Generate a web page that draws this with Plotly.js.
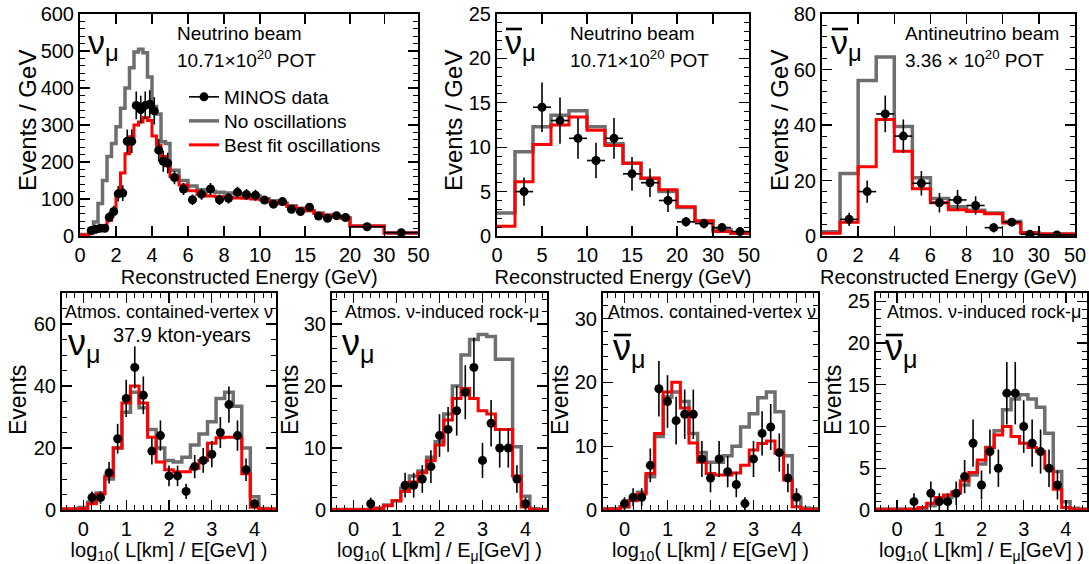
<!DOCTYPE html>
<html><head><meta charset="utf-8">
<script src="https://cdn.plot.ly/plotly-3.0.1.min.js"></script>
<style>html,body{margin:0;padding:0;background:#fff}#chart{width:1089px;height:564px}</style>
</head><body><div id="chart"></div>
<script>
// ===== Panel 1: nu_mu, neutrino beam (Events / GeV) =====
const p1Edges = [0,0.5,0.75,1,1.25,1.5,1.75,2,2.25,2.5,2.75,3,3.25,3.5,3.75,4,4.25,4.5,4.75,5,5.5,6,6.5,7,7.5,8,8.5,9,9.5,10,11,12,13,14,15,16,17,18,19,20,30,50];
const p1Data  = [null,15,18,21,21,51,66,114,116,256,256,353,342,353,356,338,232,202,197,158,127,98,113,127,98,102,118,112,110,97,86,93,72,66,78,54,48,55,50,25,9];
const p1Err   = [null,8,8.5,9,9,14,16,21,21.5,32,32,37.5,37,37.5,37.7,36.8,30.5,28.4,28,17.8,16,14,15,16,14,14.3,15.4,15,14.8,9.8,9.3,9.6,8.5,8.1,8.8,7.3,6.9,7.4,7.1,1.6,0.7];
const p1NoOsc = [4,15,38,88,150,215,250,295,345,400,455,497,505,495,430,350,330,255,250,178,150,135,125,121,118,116,114,111,108,101,95,89,82,75,69,62,57,53,49,27,8];
const p1Fit   = [3,8,12,16,25,42,70,110,170,222,268,300,308,320,312,270,245,215,190,160,138,122,112,108,106,104,103,102,100,97,92,87,80,74,68,61,56,52,48,27,8];
const p1Ticks = [0,2,4,6,8,10,15,20,30,50];
const p1ScaleE = [0,10,20,30,50], p1ScaleU = [0,10,15,16.9,18.8];

// ===== Panel 2: anti-nu_mu, neutrino beam =====
const p2Edges = [0,2,4,6,8,10,12,14,16,18,20,25,30,40,50];
const p2Data  = [null,5,14.5,13,11,8.5,11,7,6,4,1.6,1.4,0.95,0.5];
const p2Err   = [null,1.6,2.8,2.6,2.3,2.0,2.3,1.9,1.6,1.3,0.55,0.55,0.3,0.22];
const p2NoOsc = [2.6,9.5,12.3,13.6,14.1,12.3,10.4,8.2,6.5,5.0,3.2,1.7,0.7,0.3];
const p2Fit   = [1.1,6.1,10.3,12.5,13.4,11.9,10.2,8.2,6.5,5.2,3.3,1.7,0.5,0.3];
const p2Ticks = [0,5,10,15,20,30,50];
const p2ScaleE = [0,20,25,30,40,50], p2ScaleU = [0,10,11,12,13,14];

// ===== Panel 3: anti-nu_mu, antineutrino beam =====
const p3Edges = [0,1,2,3,4,5,6,7,8,9,10,20,30,50];
const p3Data  = [null,6,16,44,36,19,12,13,11,3,5,0.6,0.4];
const p3Err   = [null,2.4,4,6.6,6,4.4,3.5,3.6,3.3,1.7,0.7,0.25,0.15];
const p3NoOsc = [1.5,22.5,56,64.5,39.5,21,13.5,10.5,9.3,8.3,5.2,1.2,0.7];
const p3Fit   = [1,5,25,42,30.5,17,12,9.5,8.8,8,4.7,1.2,0.7];
const p3Ticks = [0,2,4,6,8,10,30,50];
const p3ScaleE = [0,10,20,30,50], p3ScaleU = [0,10,11,12,14];

// ===== Atmospheric panels: log10(L/E) bins =====
const atmEdges = [-0.5,-0.3,-0.1,0.1,0.3,0.5,0.7,0.9,1.1,1.3,1.5,1.7,1.9,2.1,2.3,2.5,2.7,2.9,3.1,3.3,3.5,3.7,3.9,4.1,4.3,4.5];
// contained-vertex nu_mu
const p4Data  = [null,null,null,4,4,12,23,36,46,37,19,24,11,11,6,14,16,18,25,34,24,13,2,null,null];
const p4Fit   = [0.3,0.3,0.5,2,5.2,11,20,34.5,40,34.5,23.5,15.5,13,12.3,12.3,13.5,16,21.5,23.3,23.5,23.5,11.7,0.9,0.3,0.3];
const p4NoOsc = [0.3,0.3,0.8,2.5,5.5,10,20,31.5,38,33,26,20,16,15.5,17,21,24.5,28.5,36,38,33.5,20,4.3,0.5,0.3];
// rock-muon nu_mu
const p5Data  = [null,null,null,null,1,null,null,null,4,4,5,7,12,13,16,19,23,8,14,10,10,5,1,null,null];
const p5Fit   = [0.1,0.1,0.1,0.1,0.1,0.3,0.7,1.5,3,4.5,6,8,10.5,14.5,18,19.6,18,16,15.5,13,13,5.5,0.5,0.1,0.1];
const p5NoOsc = [0.1,0.1,0.1,0.1,0.1,0.3,0.8,1.5,3.5,5.5,6.3,8.5,11,15.5,20,25,27.5,28.3,28,24.3,24.3,10.2,2.2,0.2,0.1];
// contained-vertex anti-nu_mu
const p6Data  = [null,null,1,2,2,7,19,17,14,15,15,8,5,8,6,4,1,8,12,13,9,5,2,null,null];
const p6Fit   = [0.1,0.1,0.5,1.5,2.5,5.7,12,18.5,20,16,10.5,7.5,5.7,5.5,5.5,5.8,7,9.4,10.4,10.8,8.9,4.7,0.5,0.1,0.1];
const p6NoOsc = [0.2,0.2,0.5,1.5,2.8,5.2,11.5,17.7,18.5,17,12,9,7.5,7.5,8.5,10,13,15.1,17.6,18.5,15.4,8.5,2,0.3,0.2];
// rock-muon anti-nu_mu
const p7Data  = [null,null,null,null,1,null,2,1,1,2,4,8,3,7,5,14,14,10,8,7,5,3,null,null,null];
const p7Fit   = [0.1,0.1,0.1,0.1,0.1,0.3,0.8,1.5,1.8,2.2,3.5,4.5,6,7.5,9,10,8.8,8,7.5,7,5,2.5,0.3,0.1,0.1];
const p7NoOsc = [0.1,0.1,0.1,0.1,0.1,0.2,0.5,1,1.5,2,3,4.2,5.5,7.5,9.5,12,13.3,13.8,13.3,12.3,9.2,4.6,1,0.2,0.1];

// ---------- helpers ----------
const W = 1089, H = 564;
const FONT = 'Liberation Sans, Arial, Helvetica, sans-serif';
const GRAY = '#6e6e6e', RED = '#ff0000';
function pxX(x){return x/W;} function pxY(y){return 1-y/H;}
function piecewise(kE,kU){
  return function(e){
    for(let i=0;i<kE.length-1;i++){
      if(e<=kE[i+1]||i===kE.length-2){
        return kU[i]+(e-kE[i])*(kU[i+1]-kU[i])/(kE[i+1]-kE[i]);
      }
    }
  };
}
const ident = e=>e;
const traces = [];
function addPanel(n, edges, noOsc, fit, data, err, map, sqrtErr, xErr){
  const xa = n===1?'x':'x'+n, ya = n===1?'y':'y'+n;
  const ex = edges.map(map);
  traces.push({type:'scatter',mode:'lines',x:ex,y:noOsc.concat([noOsc[noOsc.length-1]]),
    line:{shape:'hv',color:GRAY,width:3.5},xaxis:xa,yaxis:ya,showlegend:n===1,legend:'legend2',name:'No oscillations',hoverinfo:'skip'});
  traces.push({type:'scatter',mode:'lines',x:ex,y:fit.concat([fit[fit.length-1]]),
    line:{shape:'hv',color:RED,width:3},xaxis:xa,yaxis:ya,showlegend:n===1,legend:'legend3',name:'Best fit oscillations',hoverinfo:'skip'});
  const cx=[], hw=[];
  for(let i=0;i<edges.length-1;i++){cx.push((ex[i]+ex[i+1])/2); hw.push((ex[i+1]-ex[i])/2);}
  const tr = {type:'scatter',mode:'markers',x:cx,y:data,xaxis:xa,yaxis:ya,showlegend:false,
    marker:{color:'#000',size:9,symbol:'circle'},
    error_y: sqrtErr?{type:'sqrt',color:'#000',thickness:1.6,width:0}:{type:'data',array:err,color:'#000',thickness:1.6,width:0}};
  if(xErr) tr.error_x = {type:'data',array:hw,color:'#000',thickness:1.6,width:0};
  traces.push(tr);
}
const m1 = piecewise(p1ScaleE,p1ScaleU), m2 = piecewise(p2ScaleE,p2ScaleU), m3 = piecewise(p3ScaleE,p3ScaleU);
addPanel(1,p1Edges,p1NoOsc,p1Fit,p1Data,p1Err,m1,false,true);
addPanel(2,p2Edges,p2NoOsc,p2Fit,p2Data,p2Err,m2,false,true);
addPanel(3,p3Edges,p3NoOsc,p3Fit,p3Data,p3Err,m3,false,true);
addPanel(4,atmEdges,p4NoOsc,p4Fit,p4Data,null,ident,true,false);
addPanel(5,atmEdges,p5NoOsc,p5Fit,p5Data,null,ident,true,false);
addPanel(6,atmEdges,p6NoOsc,p6Fit,p6Data,null,ident,true,false);
addPanel(7,atmEdges,p7NoOsc,p7Fit,p7Data,null,ident,true,false);
// legend-only entry for data
traces.push({type:'scatter',mode:'lines+markers',x:[null],y:[null],name:'MINOS data',legend:'legend',
  line:{color:'#000',width:1.6},marker:{color:'#000',size:9},xaxis:'x',yaxis:'y'});

function axBase(){
  return {showline:true,linewidth:2,linecolor:'#000',mirror:'allticks',ticks:'inside',ticklen:10,tickwidth:1.3,
    tickcolor:'#000',showgrid:false,zeroline:false,fixedrange:true,
    tickfont:{family:FONT,size:20,color:'#000'}};
}
function xTop(d0,d1,range,ticksE,map){
  const a = axBase();
  a.domain=[pxX(d0),pxX(d1)]; a.range=range; a.tickmode='array';
  a.tickvals=ticksE.map(map); a.ticktext=ticksE.map(String);
  a.title={text:'Reconstructed Energy (GeV)',font:{family:FONT,size:20,color:'#000'},standoff:2};
  return a;
}
function xBot(d0,d1,ttl){
  const a = axBase();
  a.domain=[pxX(d0),pxX(d1)]; a.range=[-0.5,4.5]; a.dtick=1; a.tick0=0;
  a.minor={ticks:'inside',ticklen:5,tickwidth:1,tickcolor:'#000',dtick:0.2};
  a.title={text:ttl,font:{family:FONT,size:20,color:'#000'},standoff:2};
  return a;
}
function yAx(top,bot,range,dtick,mdt,anchor){
  const a = axBase();
  a.domain=[pxY(bot),pxY(top)]; a.range=range; a.dtick=dtick; a.tick0=0; a.anchor=anchor;
  a.minor={ticks:'inside',ticklen:5,tickwidth:1,tickcolor:'#000',dtick:mdt};
  return a;
}
function leg(y){
  return {x:pxX(184),y:pxY(y),xanchor:'left',yanchor:'middle',bgcolor:'rgba(0,0,0,0)',borderwidth:0,
    font:{family:FONT,size:19,color:'#000'},itemwidth:30};
}
const T0=14,T1=236,B0=293,B1=510;
const lay = {
  width:W,height:H,margin:{l:0,r:0,t:0,b:0},paper_bgcolor:'#fff',plot_bgcolor:'#fff',
  font:{family:FONT,color:'#000'},showlegend:true,
  legend:leg(97), legend2:leg(121), legend3:leg(145),
  xaxis: Object.assign(xTop(80,418.4,[0,18.8],p1Ticks,m1),{anchor:'y'}),
  xaxis2:Object.assign(xTop(497,749,[0,14],p2Ticks,m2),{anchor:'y2'}),
  xaxis3:Object.assign(xTop(822,1075,[0,14],p3Ticks,m3),{anchor:'y3'}),
  xaxis4:Object.assign(xBot(62,276,'log<sub>10</sub>( L[km] / E[GeV] )'),{anchor:'y4'}),
  xaxis5:Object.assign(xBot(332,547,'log<sub>10</sub>( L[km] / E<sub>μ</sub>[GeV] )'),{anchor:'y5'}),
  xaxis6:Object.assign(xBot(603,818,'log<sub>10</sub>( L[km] / E[GeV] )'),{anchor:'y6'}),
  xaxis7:Object.assign(xBot(876,1087,'log<sub>10</sub>( L[km] / E<sub>μ</sub>[GeV] )'),{anchor:'y7'}),
  yaxis: yAx(T0,T1,[0,600],100,20,'x'),
  yaxis2:yAx(T0,T1,[0,25],5,1,'x2'),
  yaxis3:yAx(T0,T1,[0,80],20,4,'x3'),
  yaxis4:yAx(B0,B1,[0,70],20,5,'x4'),
  yaxis5:yAx(B0,B1,[0,35],10,2,'x5'),
  yaxis6:yAx(B0,B1,[0,34],10,2,'x6'),
  yaxis7:yAx(B0,B1,[0,26],5,1,'x7'),
  annotations:[], shapes:[]
};
function ann(text,x,y,size){
  lay.annotations.push({text:text,xref:'paper',yref:'paper',x:pxX(x),y:pxY(y),xanchor:'left',yanchor:'middle',
    showarrow:false,font:{family:FONT,size:size,color:'#000'}});
}
function ytitle(text,x,y,size){
  lay.annotations.push({text:text,xref:'paper',yref:'paper',x:pxX(x),y:pxY(y),xanchor:'center',yanchor:'middle',
    textangle:-90,showarrow:false,font:{family:FONT,size:size,color:'#000'}});
}
function bar(x0,x1,y){ // overbar of the anti-neutrino symbol
  lay.shapes.push({type:'line',xref:'paper',yref:'paper',x0:pxX(x0),x1:pxX(x1),y0:pxY(y),y1:pxY(y),line:{color:'#000',width:2.6}});
}
ytitle('Events / GeV',27,121,24);
ytitle('Events / GeV',453,121,24);
ytitle('Events / GeV',779,121,24);
ytitle('Events',18,400,23);
ytitle('Events',290,400,23);
ytitle('Events',560,400,23);
ytitle('Events',833,400,23);
const NU='ν<sub>μ</sub>';
ann(NU,86,45,34);
ann('Neutrino beam',175,33,19);
ann('10.71×10<sup>20</sup> POT',175,59,19);
ann(NU,503,45,34); bar(506,522,29);
ann('Neutrino beam',568,33,19);
ann('10.71×10<sup>20</sup> POT',568,59,19);
ann(NU,829,45,34); bar(832,848,29);
ann('Antineutrino beam',903,33,19);
ann('3.36 × 10<sup>20</sup> POT',903,59,19);
ann('Atmos. contained-vertex ν',63,312,18);
ann(NU,66,345,36);
ann('37.9 kton-years',111,335,20);
ann('Atmos. ν-induced rock-μ',343,312,18);
ann(NU,340,345,36);
ann('Atmos. contained-vertex ν',606,312,18);
ann(NU,611,350,36); bar(614,631,335);
ann('Atmos. ν-induced rock-μ',885,312,18);
ann(NU,883,350,36); bar(886,903,335);

Plotly.newPlot('chart',traces,lay,{staticPlot:true,displayModeBar:false});
</script></body></html>
